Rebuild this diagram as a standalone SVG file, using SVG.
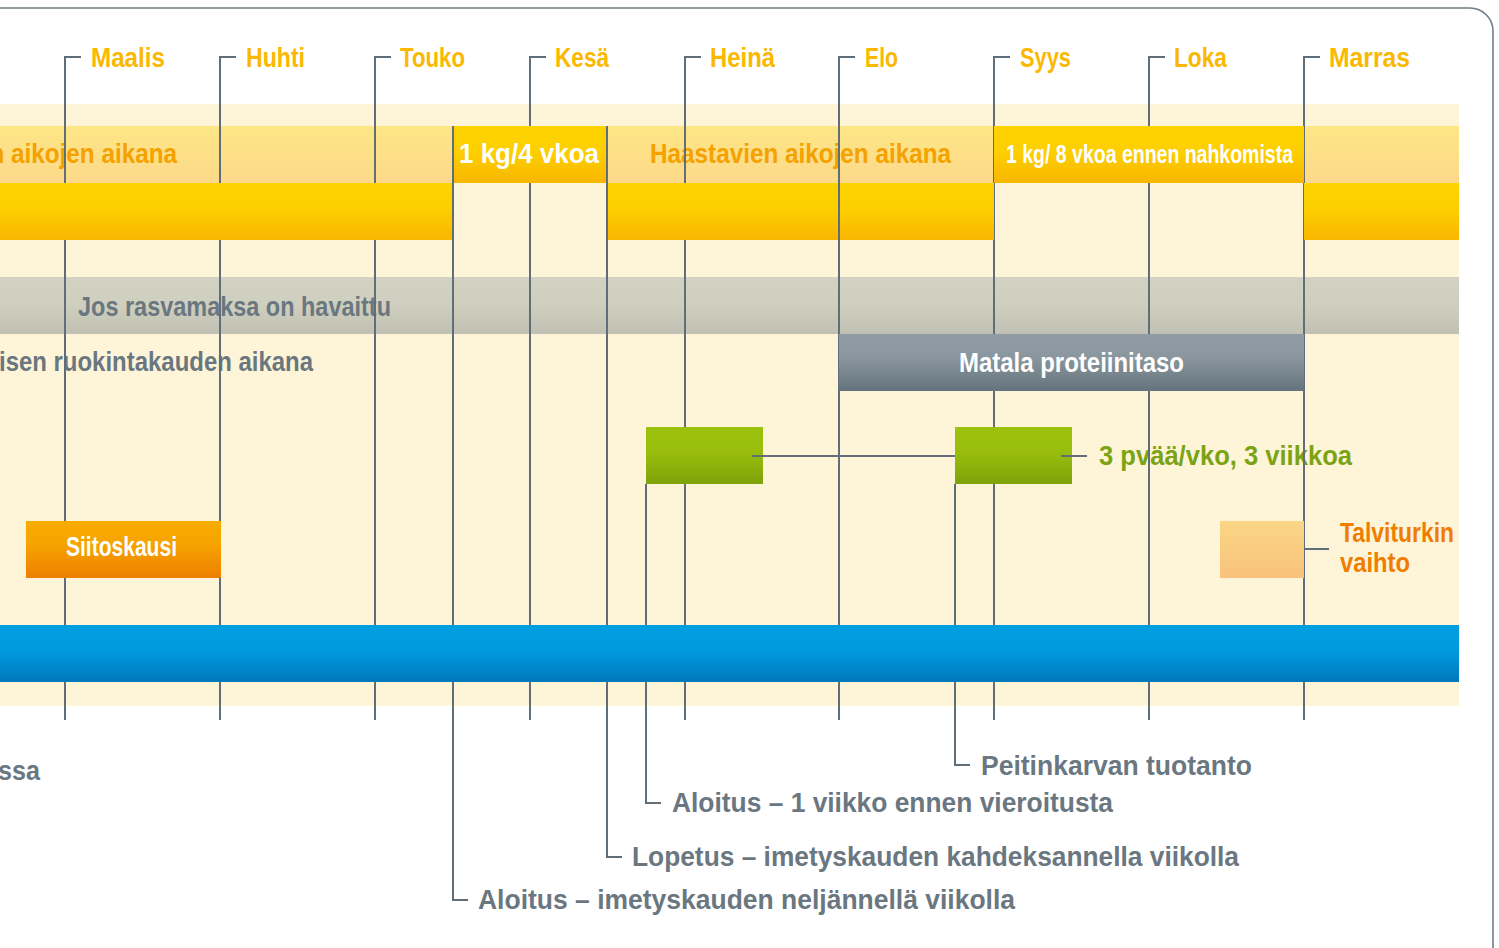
<svg xmlns="http://www.w3.org/2000/svg" width="1499" height="948" viewBox="0 0 1499 948">
<defs>
<linearGradient id="gLight" x1="0" y1="0" x2="0" y2="1"><stop offset="0" stop-color="#fee685"/><stop offset="1" stop-color="#fcd98a"/></linearGradient>
<linearGradient id="gGold" x1="0" y1="0" x2="0" y2="1"><stop offset="0" stop-color="#fdd300"/><stop offset="0.45" stop-color="#fdcf00"/><stop offset="1" stop-color="#f8b600"/></linearGradient>
<linearGradient id="gGray" x1="0" y1="0" x2="0" y2="1"><stop offset="0" stop-color="#d2d2c2"/><stop offset="0.5" stop-color="#cfcfbf"/><stop offset="1" stop-color="#c1c1b3"/></linearGradient>
<linearGradient id="gSlate" x1="0" y1="0" x2="0" y2="1"><stop offset="0" stop-color="#8f9ca3"/><stop offset="0.4" stop-color="#8a979f"/><stop offset="1" stop-color="#65737c"/></linearGradient>
<linearGradient id="gGreen" x1="0" y1="0" x2="0" y2="1"><stop offset="0" stop-color="#9cc20c"/><stop offset="0.45" stop-color="#98bd0d"/><stop offset="1" stop-color="#7ea20a"/></linearGradient>
<linearGradient id="gOrange" x1="0" y1="0" x2="0" y2="1"><stop offset="0" stop-color="#f8ac00"/><stop offset="0.4" stop-color="#f6a400"/><stop offset="1" stop-color="#ee7f00"/></linearGradient>
<linearGradient id="gPale" x1="0" y1="0" x2="0" y2="1"><stop offset="0" stop-color="#fad685"/><stop offset="1" stop-color="#f8c27b"/></linearGradient>
<linearGradient id="gBlue" x1="0" y1="0" x2="0" y2="1"><stop offset="0" stop-color="#009fe0"/><stop offset="0.45" stop-color="#009ade"/><stop offset="1" stop-color="#0077bb"/></linearGradient>
</defs>
<style>
text{font-family:"Liberation Sans",Arial,sans-serif;font-weight:bold;lengthAdjust:spacingAndGlyphs}
.mon{font-size:28px;fill:#fbb800}
.gt{font-size:27px;fill:#6a7780}
.wt{font-size:27px;fill:#ffffff}
.ot{font-size:27px;fill:#f5a100}
.ln{stroke:#5f6e78;stroke-width:2;fill:none}
</style>
<rect x="0" y="0" width="1499" height="948" fill="#ffffff"/>
<rect x="-40" y="8" width="1533" height="1000" rx="23" fill="none" stroke="#6f7c85" stroke-width="1.6"/>
<g id="background">
<rect x="0" y="104" width="1459" height="602" fill="#fef5d9"/>
<rect x="0" y="126" width="1459" height="57" fill="url(#gLight)"/>
<rect x="0" y="277" width="1459" height="57" fill="url(#gGray)"/>
</g>
<g id="band-texts">
<text class="ot" x="-124" y="163" textLength="301" lengthAdjust="spacingAndGlyphs">Haastavien aikojen aikana</text>
<text class="ot" x="650" y="163" textLength="301" lengthAdjust="spacingAndGlyphs">Haastavien aikojen aikana</text>
<text class="gt" x="78" y="316" textLength="313" lengthAdjust="spacingAndGlyphs">Jos rasvamaksa on havaittu</text>
<text class="gt" x="-1" y="371" textLength="314" lengthAdjust="spacingAndGlyphs">isen ruokintakauden aikana</text>
<text x="1099" y="465" textLength="253" lengthAdjust="spacingAndGlyphs" style="font-size:27px;fill:#7ba314">3 pvää/vko, 3 viikkoa</text>
</g>
<g id="month-lines">
<path class="ln" d="M81 57H65V720M236 57H220V720M391 57H375V720M546 57H530V720M701 57H685V720M855 57H839V720M1010 57H994V720M1165 57H1149V720M1320 57H1304V720"/>
</g>
<g id="months">
<text class="mon" x="91" y="67" textLength="74" lengthAdjust="spacingAndGlyphs">Maalis</text>
<text class="mon" x="246" y="67" textLength="59" lengthAdjust="spacingAndGlyphs">Huhti</text>
<text class="mon" x="400" y="67" textLength="65" lengthAdjust="spacingAndGlyphs">Touko</text>
<text class="mon" x="555" y="67" textLength="54" lengthAdjust="spacingAndGlyphs">Kesä</text>
<text class="mon" x="710" y="67" textLength="65" lengthAdjust="spacingAndGlyphs">Heinä</text>
<text class="mon" x="865" y="67" textLength="33" lengthAdjust="spacingAndGlyphs">Elo</text>
<text class="mon" x="1020" y="67" textLength="51" lengthAdjust="spacingAndGlyphs">Syys</text>
<text class="mon" x="1174" y="67" textLength="53" lengthAdjust="spacingAndGlyphs">Loka</text>
<text class="mon" x="1329" y="67" textLength="81" lengthAdjust="spacingAndGlyphs">Marras</text>
</g>
<g id="gold-bars">
<rect x="0" y="183" width="453" height="57" fill="url(#gGold)"/>
<rect x="607" y="183" width="387" height="57" fill="url(#gGold)"/>
<rect x="1304" y="183" width="155" height="57" fill="url(#gGold)"/>
</g>
<g id="node-1kg-4vkoa">
<rect x="453" y="126" width="154" height="57" fill="url(#gGold)"/>
<text class="wt" x="459" y="163" textLength="140" lengthAdjust="spacingAndGlyphs">1 kg/4 vkoa</text>
</g>
<g id="node-1kg-8vkoa">
<rect x="994" y="126" width="310" height="57" fill="url(#gGold)"/>
<text class="wt" x="1006" y="163" textLength="287" lengthAdjust="spacingAndGlyphs" style="font-size:25px">1 kg/ 8 vkoa ennen nahkomista</text>
</g>
<g id="node-matala">
<rect x="839" y="334" width="465" height="57" fill="url(#gSlate)"/>
<text class="wt" x="959" y="372" textLength="225" lengthAdjust="spacingAndGlyphs">Matala proteiinitaso</text>
</g>
<g id="node-green-1">
<rect x="646" y="427" width="117" height="57" fill="url(#gGreen)"/>
</g>
<g id="node-green-2">
<rect x="955" y="427" width="117" height="57" fill="url(#gGreen)"/>
</g>
<g id="node-siitoskausi">
<rect x="26" y="521" width="195" height="57" fill="url(#gOrange)"/>
<text class="wt" x="66" y="556" textLength="111" lengthAdjust="spacingAndGlyphs">Siitoskausi</text>
</g>
<g id="node-talviturkki">
<rect x="1220" y="521" width="84" height="57" fill="url(#gPale)"/>
<text x="1340" y="542" textLength="114" lengthAdjust="spacingAndGlyphs" style="font-size:27px;fill:#ef7d00">Talviturkin</text>
<text x="1340" y="572" textLength="70" lengthAdjust="spacingAndGlyphs" style="font-size:27px;fill:#ef7d00">vaihto</text>
</g>
<g id="connectors">
<path class="ln" d="M839 126V334"/>
<path class="ln" d="M453 126V900H468"/>
<path class="ln" d="M607 126V857H622"/>
<path class="ln" d="M646 484V803H661"/>
<path class="ln" d="M955 484V765H970"/>
<path class="ln" d="M752 456H955M1061 456H1087"/>
<path class="ln" d="M1304 549H1329"/>
</g>
<g id="node-blue-bar">
<rect x="0" y="625" width="1459" height="57" fill="url(#gBlue)"/>
</g>
<g id="bottom-labels">
<text class="gt" x="-2" y="780" textLength="42" lengthAdjust="spacingAndGlyphs">ssa</text>
<text class="gt" x="981" y="775" textLength="271" lengthAdjust="spacingAndGlyphs">Peitinkarvan tuotanto</text>
<text class="gt" x="672" y="812" textLength="441" lengthAdjust="spacingAndGlyphs">Aloitus – 1 viikko ennen vieroitusta</text>
<text class="gt" x="632" y="866" textLength="607" lengthAdjust="spacingAndGlyphs">Lopetus – imetyskauden kahdeksannella viikolla</text>
<text class="gt" x="478" y="909" textLength="537" lengthAdjust="spacingAndGlyphs">Aloitus – imetyskauden neljännellä viikolla</text>
</g>
</svg>
